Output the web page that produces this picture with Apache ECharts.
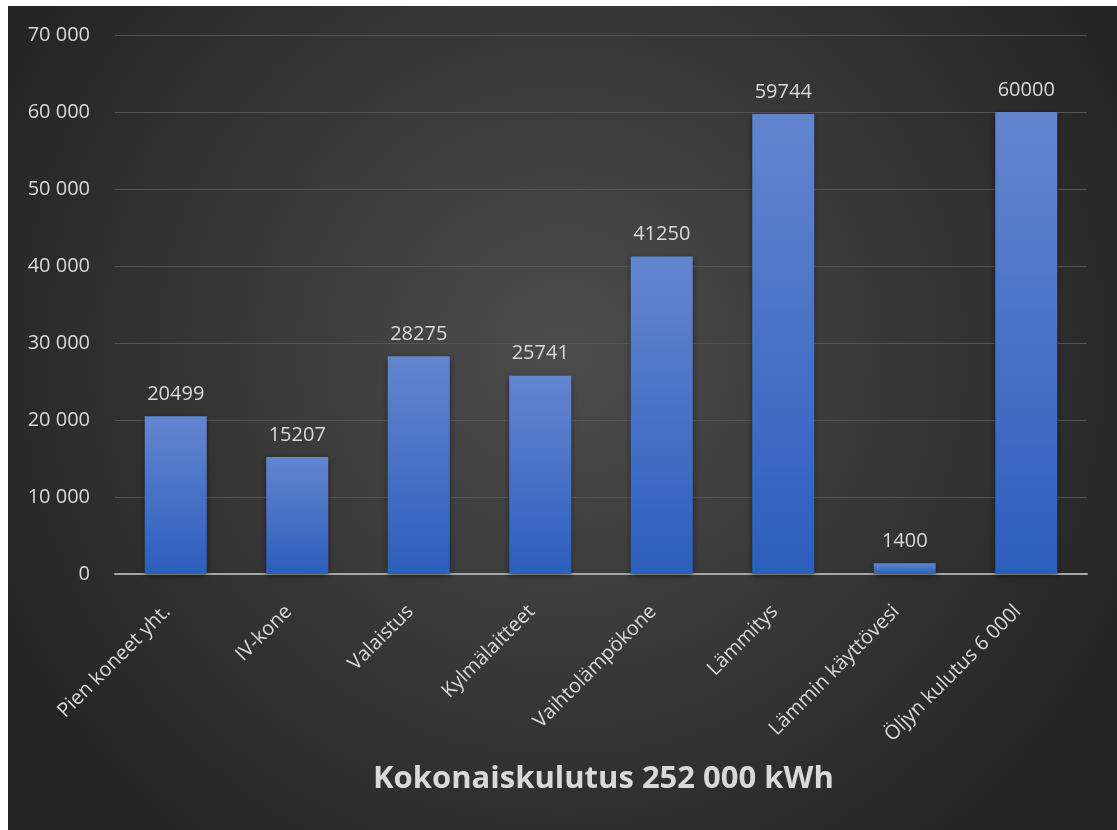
<!DOCTYPE html>
<html>
<head>
<meta charset="utf-8">
<script src="https://cdn.jsdelivr.net/npm/echarts@6/dist/echarts.min.js"></script>
<style>
html,body{margin:0;padding:0;background:#ffffff;width:1117px;height:830px;overflow:hidden;}
#chart{position:absolute;left:8px;top:6px;width:1109px;height:824px;}
</style>
</head>
<body>
<div id="chart"></div>
<script>
const categories = ["Pien koneet yht.", "IV-kone", "Valaistus", "Kylmälaitteet", "Vaihtolämpökone", "Lämmitys", "Lämmin käyttövesi", "Öljyn kulutus 6 000l"];
const values = [20499, 15207, 28275, 25741, 41250, 59744, 1400, 60000];
const titleText = "Kokonaiskulutus 252 000 kWh";
const yMin = 0, yMax = 70000, yStep = 10000;

const chart = echarts.init(document.getElementById('chart'), null, {renderer: 'canvas'});
const fontFam = '"Open Sans", "Noto Sans", sans-serif';
chart.setOption({
  backgroundColor: {
    type: 'radial', x: 0.5, y: 0.42, r: 0.75,
    colorStops: [{offset: 0, color: '#4c4c4c'}, {offset: 1, color: '#252525'}]
  },
  title: {
    text: titleText, left: 360, top: 753,
    textStyle: {color: '#d9d9d9', fontSize: 31, fontWeight: 'bold', fontFamily: fontFam}
  },
  grid: {left: 107, right: 30, top: 29, bottom: 256, containLabel: false},
  xAxis: {
    type: 'category', data: categories,
    axisLine: {lineStyle: {color: '#a6a6a6', width: 2}},
    axisTick: {show: false},
    axisLabel: {rotate: 45, color: '#d9d9d9', fontSize: 20, fontFamily: fontFam, margin: 26, interval: 0, padding: [0, 12, 0, 0]}
  },
  yAxis: {
    type: 'value', min: yMin, max: yMax, interval: yStep,
    axisLine: {show: false}, axisTick: {show: false},
    splitLine: {lineStyle: {color: '#555555', width: 1}},
    axisLabel: {
      color: '#d9d9d9', fontSize: 20, fontFamily: fontFam, margin: 25,
      formatter: v => String(v).replace(/\B(?=(\d{3})+(?!\d))/g, ' ')
    }
  },
  series: [{
    type: 'bar', data: values, barWidth: 62,
    itemStyle: {
      color: {type: 'linear', x: 0, y: 0, x2: 0, y2: 1,
        colorStops: [{offset: 0, color: '#6385cf'}, {offset: 1, color: '#2c5ebd'}]},
      shadowColor: 'rgba(0,0,0,0.45)', shadowBlur: 6, shadowOffsetY: 2
    },
    label: {show: true, position: 'top', distance: 12, color: '#d9d9d9', fontSize: 20, fontFamily: fontFam}
  }]
});
</script>
</body>
</html>
